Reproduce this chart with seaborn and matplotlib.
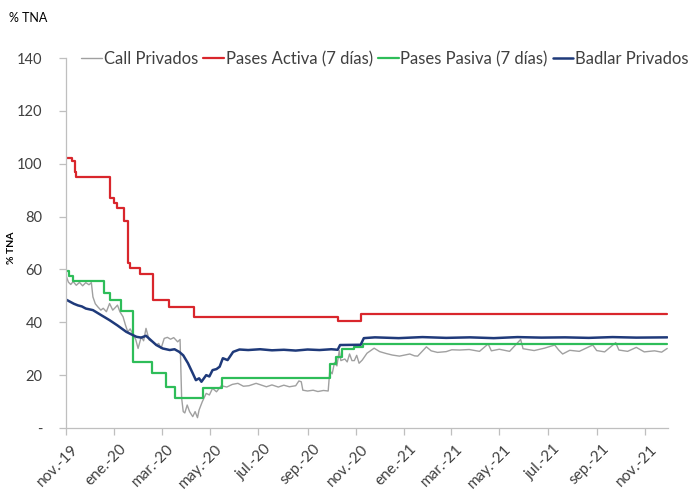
import matplotlib
matplotlib.use("Agg")
import matplotlib.pyplot as plt
import matplotlib.transforms as mtransforms
import seaborn as sns
import pandas as pd

# --- data (% TNA) ---
activa_dates = ["2019-11-01", "2019-11-09", "2019-11-12", "2019-11-14", "2019-12-27",
                "2019-12-31", "2020-01-04", "2020-01-13", "2020-01-18", "2020-01-21",
                "2020-02-02", "2020-02-19", "2020-03-10", "2020-04-11", "2020-10-09",
                "2020-11-08", "2021-11-29"]
activa_vals = [102.3, 101.0, 97.0, 95.0, 87.1, 85.3, 83.1, 78.3, 62.3, 60.4,
               58.1, 48.4, 45.8, 42.0, 40.5, 43.0, 43.0]

pasiva_dates = ["2019-11-01", "2019-11-05", "2019-11-10", "2019-12-19", "2019-12-26",
                "2020-01-10", "2020-01-24", "2020-02-17", "2020-03-06", "2020-03-18",
                "2020-04-22", "2020-05-16", "2020-09-29", "2020-10-07", "2020-10-14",
                "2020-10-29", "2020-11-10", "2021-11-29"]
pasiva_vals = [59.5, 57.5, 55.5, 51.0, 48.6, 44.2, 25.1, 20.7, 15.4, 11.5,
               15.2, 19.0, 24.2, 26.8, 29.9, 30.8, 31.8, 31.8]

badlar_dates = ["2019-11-01", "2019-11-06", "2019-11-11", "2019-11-16", "2019-11-21",
                "2019-11-26", "2019-12-05", "2019-12-16", "2019-12-26", "2020-01-05",
                "2020-01-16", "2020-01-22", "2020-01-29", "2020-02-04", "2020-02-10",
                "2020-02-17", "2020-02-23", "2020-03-02", "2020-03-11", "2020-03-17",
                "2020-03-23", "2020-03-28", "2020-04-03", "2020-04-09", "2020-04-13",
                "2020-04-17", "2020-04-20", "2020-04-26", "2020-04-30", "2020-05-04",
                "2020-05-09", "2020-05-13", "2020-05-17", "2020-05-23", "2020-05-30",
                "2020-06-07", "2020-06-18", "2020-07-03", "2020-07-18", "2020-08-02",
                "2020-08-17", "2020-09-01", "2020-09-16", "2020-10-01", "2020-10-09",
                "2020-10-12", "2020-11-07", "2020-11-11", "2020-11-25", "2020-12-25",
                "2021-01-24", "2021-02-23", "2021-03-25", "2021-04-24", "2021-05-24",
                "2021-06-23", "2021-07-23", "2021-08-22", "2021-09-21", "2021-10-21",
                "2021-11-29"]
badlar_vals = [48.6, 47.8, 47.0, 46.4, 46.0, 45.2, 44.6, 42.6, 40.8, 38.8,
               36.4, 35.5, 34.5, 34.2, 34.9, 33.0, 31.4, 30.1, 29.5, 29.8,
               28.8, 27.5, 24.5, 20.7, 18.1, 18.8, 17.5, 20.0, 19.5, 21.9,
               22.3, 23.2, 26.4, 25.7, 28.8, 29.7, 29.5, 29.8, 29.4, 29.6,
               29.3, 29.7, 29.5, 29.8, 29.6, 31.4, 31.5, 34.0, 34.3, 34.0,
               34.4, 34.1, 34.3, 34.0, 34.4, 34.2, 34.3, 34.1, 34.4, 34.2,
               34.3]

call_dates = ["2019-11-01", "2019-11-04", "2019-11-07", "2019-11-10", "2019-11-14",
              "2019-11-18", "2019-11-22", "2019-11-26", "2019-11-30", "2019-12-03",
              "2019-12-05", "2019-12-08", "2019-12-11", "2019-12-15", "2019-12-18",
              "2019-12-22", "2019-12-26", "2019-12-30", "2020-01-02", "2020-01-05",
              "2020-01-08", "2020-01-12", "2020-01-15", "2020-01-18", "2020-01-21",
              "2020-01-24", "2020-01-28", "2020-01-31", "2020-02-04", "2020-02-07",
              "2020-02-10", "2020-02-14", "2020-02-19", "2020-02-23", "2020-02-26",
              "2020-02-29", "2020-03-04", "2020-03-08", "2020-03-12", "2020-03-16",
              "2020-03-21", "2020-03-24", "2020-03-26", "2020-03-28", "2020-03-30",
              "2020-04-02", "2020-04-05", "2020-04-09", "2020-04-12", "2020-04-15",
              "2020-04-17", "2020-04-21", "2020-04-26", "2020-04-30", "2020-05-04",
              "2020-05-09", "2020-05-15", "2020-05-22", "2020-05-29", "2020-06-05",
              "2020-06-12", "2020-06-19", "2020-06-28", "2020-07-08", "2020-07-11",
              "2020-07-18", "2020-07-26", "2020-08-02", "2020-08-09", "2020-08-17",
              "2020-08-21", "2020-08-24", "2020-08-26", "2020-09-01", "2020-09-08",
              "2020-09-14", "2020-09-21", "2020-09-27", "2020-09-29", "2020-10-02",
              "2020-10-05", "2020-10-08", "2020-10-11", "2020-10-13", "2020-10-18",
              "2020-10-21", "2020-10-24", "2020-10-27", "2020-10-30", "2020-11-02",
              "2020-11-05", "2020-11-09", "2020-11-15", "2020-11-24", "2020-12-01",
              "2020-12-09", "2020-12-17", "2020-12-26", "2021-01-08", "2021-01-14",
              "2021-01-18", "2021-01-29", "2021-02-04", "2021-02-12", "2021-02-23",
              "2021-03-02", "2021-03-12", "2021-03-24", "2021-04-06", "2021-04-17",
              "2021-04-21", "2021-05-01", "2021-05-14", "2021-05-28", "2021-05-31",
              "2021-06-14", "2021-06-27", "2021-07-10", "2021-07-15", "2021-07-20",
              "2021-07-29", "2021-08-10", "2021-08-27", "2021-09-01", "2021-09-11",
              "2021-09-25", "2021-09-29", "2021-10-10", "2021-10-21", "2021-10-31",
              "2021-11-13", "2021-11-22", "2021-11-29"]
call_vals = [57.8, 55.2, 54.3, 55.4, 54.0, 55.1, 53.8, 55.0, 54.2, 55.0,
             49.6, 47.0, 45.9, 44.6, 45.3, 44.0, 47.1, 44.6, 45.5, 46.5,
             44.0, 42.1, 39.0, 36.4, 37.5, 35.8, 33.5, 30.1, 34.5, 33.0,
             37.7, 33.3, 32.5, 31.4, 32.0, 30.1, 33.9, 34.3, 33.6, 34.2,
             32.6, 33.5, 11.3, 6.2, 5.7, 8.7, 6.2, 4.3, 6.2, 3.9,
             6.8, 9.9, 13.1, 12.5, 15.0, 13.7, 16.0, 15.5, 16.5, 16.9,
             15.8, 16.0, 16.9, 15.9, 15.6, 16.3, 15.5, 16.2, 15.6, 16.0,
             17.8, 17.5, 14.3, 14.0, 14.3, 13.8, 14.2, 14.0, 21.7, 20.5,
             24.8, 23.5, 29.3, 25.5, 26.1, 25.0, 28.0, 25.5, 25.5, 27.5,
             24.5, 25.7, 28.3, 30.2, 28.9, 28.2, 27.6, 27.2, 28.0, 27.3,
             27.2, 30.7, 29.2, 28.6, 28.9, 29.6, 29.5, 29.7, 29.0, 31.8,
             29.2, 29.8, 29.0, 33.5, 30.0, 29.3, 30.2, 31.4, 29.5, 28.0,
             29.4, 29.0, 31.4, 29.3, 28.8, 32.3, 29.5, 29.0, 30.5, 28.8,
             29.2, 28.7, 30.1]

tick_dates = ["2019-11-01", "2020-01-01", "2020-03-01", "2020-05-01", "2020-07-01",
              "2020-09-01", "2020-11-01", "2021-01-01", "2021-03-01", "2021-05-01",
              "2021-07-01", "2021-09-01", "2021-11-01"]
tick_labels = ["nov.-19", "ene.-20", "mar.-20", "may.-20", "jul.-20", "sep.-20",
               "nov.-20", "ene.-21", "mar.-21", "may.-21", "jul.-21", "sep.-21", "nov.-21"]
y_ticks = [0, 20, 40, 60, 80, 100, 120, 140]
y_labels = ["-", "20", "40", "60", "80", "100", "120", "140"]

sns.set_style("white")
plt.rcParams["font.family"] = ["Lato", "DejaVu Sans"]

txt = "#404040"
axis_col = "#BFBFBF"

fig = plt.figure(figsize=(6.91, 4.91), dpi=100)
ax = fig.add_axes([66 / 691, 1 - 428 / 491, (668 - 66) / 691, (428 - 58) / 491])

sns.lineplot(x=pd.to_datetime(call_dates), y=call_vals, ax=ax, color="#A0A0A0",
             linewidth=1.0, label="Call Privados")
sns.lineplot(x=pd.to_datetime(activa_dates), y=activa_vals, ax=ax, color="#D9262C",
             linewidth=1.6, drawstyle="steps-post", label="Pases Activa (7 días)")
sns.lineplot(x=pd.to_datetime(pasiva_dates), y=pasiva_vals, ax=ax, color="#2EBD59",
             linewidth=1.6, drawstyle="steps-post", label="Pases Pasiva (7 días)")
sns.lineplot(x=pd.to_datetime(badlar_dates), y=badlar_vals, ax=ax, color="#1F3A7A",
             linewidth=1.8, label="Badlar Privados")

ax.set_xlim(pd.Timestamp("2019-11-01"), pd.Timestamp("2021-11-30"))
ax.set_ylim(0, 140)
ax.set_yticks(y_ticks)
ax.set_yticklabels(y_labels)
ax.set_xticks(pd.to_datetime(tick_dates))
ax.set_xticklabels(tick_labels, rotation=45, ha="right", rotation_mode="anchor")
ax.set_xlabel("")
ax.set_ylabel("")

for s in ["top", "right"]:
    ax.spines[s].set_visible(False)
for s in ["left", "bottom"]:
    ax.spines[s].set_color(axis_col)
    ax.spines[s].set_linewidth(0.9)

ax.tick_params(axis="y", length=5, width=0.9, color=axis_col, pad=12,
               labelsize=10.5, labelcolor=txt, left=True)
ax.tick_params(axis="x", length=5, width=0.9, color=axis_col, pad=5,
               labelsize=11, labelcolor=txt, bottom=True)
shift = mtransforms.ScaledTranslation(5 / 100, 0, fig.dpi_scale_trans)
for lab in ax.get_xticklabels():
    lab.set_transform(lab.get_transform() + shift)

leg = ax.legend(loc="center", bbox_to_anchor=(385 / 691, 1 - 59 / 491),
                bbox_transform=fig.transFigure, ncol=4, frameon=False,
                fontsize=12, handlelength=1.25, handletextpad=0.1,
                columnspacing=0.3, borderaxespad=0, borderpad=0)
for t in leg.get_texts():
    t.set_color(txt)

fig.text(9 / 691, 1 - 17.5 / 491, "% TNA", fontsize=9, color="black",
         ha="left", va="center")
fig.text(11.5 / 691, 1 - 247.5 / 491, "% TNA", fontsize=7.5, fontweight="bold",
         color="black", rotation=90, ha="center", va="center")

plt.savefig("out.png", dpi=100)
